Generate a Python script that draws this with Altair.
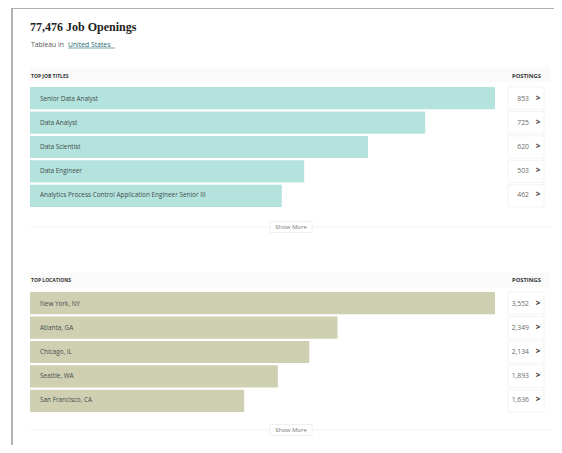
import altair as alt
import pandas as pd

# ---- data ----
headline = "77,476 Job Openings"
sub_prefix = "Tableau in"
sub_link = "United States"
section1_title = "TOP JOB TITLES"
section2_title = "TOP LOCATIONS"
col_title = "POSTINGS"
more_label = "Show More"

job_titles = ["Senior Data Analyst", "Data Analyst", "Data Scientist", "Data Engineer",
              "Analytics Process Control Application Engineer Senior III"]
job_postings = [853, 725, 620, 503, 462]

locations = ["New York, NY", "Atlanta, GA", "Chicago, IL", "Seattle, WA", "San Francisco, CA"]
loc_postings = [3552, 2349, 2134, 1893, 1636]

SANS = "Open Sans"
one = pd.DataFrame({"a": [0]})


def section(cats, vals, color, y_range):
    df = pd.DataFrame({"cat": cats, "n": vals})
    xs = alt.Scale(domain=[0, max(vals)], range=[22, 487], nice=False)
    ys = alt.Scale(domain=cats, range=y_range, paddingInner=0.09, paddingOuter=0)
    y = alt.Y("cat:N", scale=ys, axis=None, sort=None)
    base = alt.Chart(df)
    bars = base.mark_bar(color=color).encode(
        x=alt.X("n:Q", scale=xs, axis=None), y=y)
    cells = base.mark_rect(fill="white", stroke="#f0f0f0", strokeWidth=0.8).encode(
        x=alt.value(500), x2=alt.value(536), y=y)
    labels = base.mark_text(align="left", baseline="middle", font=SANS, fontSize=6.4,
                            color="#3f4d4d").encode(x=alt.value(32), y=y, text="cat:N")
    values = base.mark_text(align="right", baseline="middle", font=SANS, fontSize=6.8,
                            color="#6a6a6a").encode(
        x=alt.value(521), y=y, text=alt.Text("n:Q", format=","))
    arrows = base.mark_text(align="center", baseline="middle", font=SANS, fontSize=8,
                            fontWeight="bold", color="#333333").encode(
        x=alt.value(530), y=y, text=alt.value(">"))
    return [bars, cells, labels, values, arrows]


def txt(s, x, y, size, color, font=SANS, weight="normal", align="left", baseline="alphabetic"):
    return alt.Chart(one).mark_text(align=align, baseline=baseline, font=font, fontSize=size,
                                    fontWeight=weight, color=color).encode(
        x=alt.value(x), y=alt.value(y), text=alt.value(s))


def rule(x, x2, y, y2, color, w):
    return alt.Chart(one).mark_rule(color=color, strokeWidth=w).encode(
        x=alt.value(x), x2=alt.value(x2), y=alt.value(y), y2=alt.value(y2))


def box(x, x2, y, y2, fill, stroke):
    return alt.Chart(one).mark_rect(fill=fill, stroke=stroke, strokeWidth=0.8).encode(
        x=alt.value(x), x2=alt.value(x2), y=alt.value(y), y2=alt.value(y2))


deco = [
    rule(4, 560, 0, 0, "#9a9a9a", 1.5),
    rule(4, 4, 0, 450, "#9a9a9a", 1.5),
    box(22, 542, 60, 74, "#fafafa", "#fafafa"),
    box(22, 542, 265, 279, "#fafafa", "#fafafa"),
    txt(headline, 22, 22.5, 12, "#222222", font="Liberation Serif", weight="bold"),
    txt(sub_prefix, 23, 38.5, 6.8, "#555555"),
    txt(sub_link, 60, 38.5, 6.8, "#1f6b73"),
    rule(60, 107, 40, 40, "#1f6b73", 0.6),
    txt(section1_title, 23, 69.5, 5, "#333333", weight="bold"),
    txt(col_title, 504, 69.5, 5.8, "#333333", weight="bold"),
    txt(section2_title, 23, 273.5, 5, "#333333", weight="bold"),
    txt(col_title, 504, 273.5, 5.8, "#333333", weight="bold"),
    rule(22, 542, 219, 219, "#f1f1f1", 1),
    box(262, 304, 213.5, 224.5, "white", "#ececec"),
    txt(more_label, 283, 219, 6, "#777777", align="center", baseline="middle"),
    rule(22, 542, 422, 422, "#f1f1f1", 1),
    box(262, 304, 416.5, 427.5, "white", "#ececec"),
    txt(more_label, 283, 422, 6, "#777777", align="center", baseline="middle"),
]

layers = deco + section(job_titles, job_postings, "#b4e2dc", [79, 199]) \
              + section(locations, loc_postings, "#cfd0b2", [284, 404])

chart = alt.layer(*layers).resolve_scale(x="independent", y="independent").properties(
    width=546, height=437, autosize=alt.AutoSizeParams(type="none"), padding=0,
    background="white"
).configure_view(stroke=None)

chart.save("out.html", embed_options={"renderer": "svg", "actions": False})
